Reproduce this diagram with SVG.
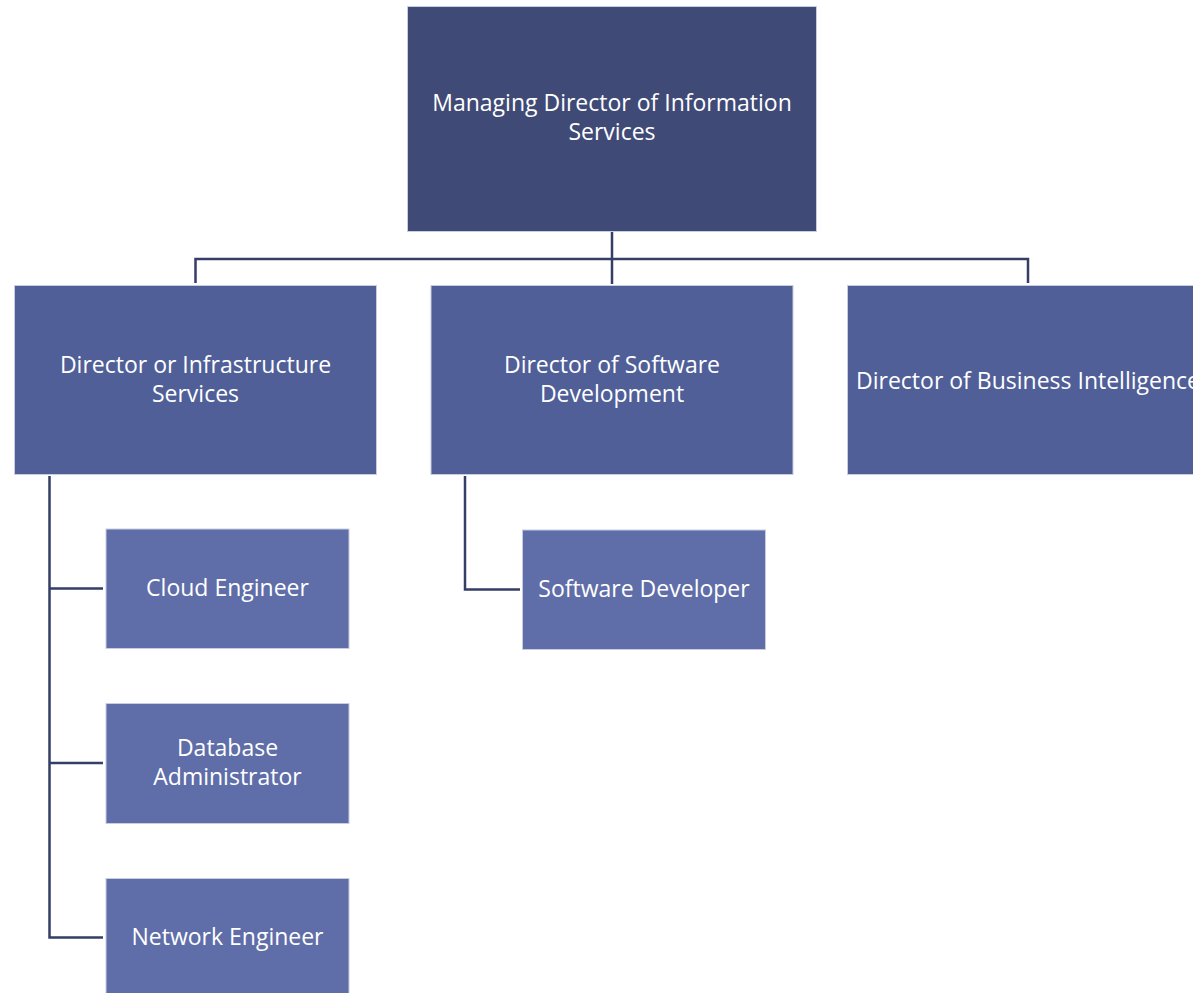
<svg xmlns="http://www.w3.org/2000/svg" width="1193" height="993" viewBox="0 0 1193 993">
<style>
.b{stroke:#c8cde0;stroke-width:1}
.l0{fill:#404a76}
.l1{fill:#505f98}
.l2{fill:#5f6ea8}
text{font-family:"Open Sans","Noto Sans","Liberation Sans",sans-serif;font-size:23px;fill:#ffffff;text-anchor:middle}
.c{fill:none;stroke:#353e66;stroke-width:2.5}
</style>
<rect width="1193" height="993" fill="#ffffff"/>
<g id="connectors">
<path class="c" d="M612 232 V284 M195.5 283 V259 H1028 V283"/>
<path class="c" d="M49.5 476 V937.5 H103 M49.5 588.5 H103 M49.5 763 H103"/>
<path class="c" d="M465 476 V589.5 H520"/>
</g>
<g id="managing-director">
<rect class="l0 b" x="407.5" y="6.5" width="409" height="225"/>
<text x="612" y="111">Managing Director of Information</text>
<text x="612" y="140">Services</text>
</g>
<g id="director-infrastructure">
<rect class="l1 b" x="14.5" y="285.5" width="362" height="189"/>
<text x="195.5" y="373">Director or Infrastructure</text>
<text x="195.5" y="402">Services</text>
</g>
<g id="director-software">
<rect class="l1 b" x="431" y="285.5" width="362" height="189"/>
<text x="612" y="373">Director of Software</text>
<text x="612" y="402">Development</text>
</g>
<g id="director-bi">
<rect class="l1 b" x="847.5" y="285.5" width="362" height="189"/>
<text x="1028" y="389">Director of Business Intelligence</text>
</g>
<g id="cloud-engineer">
<rect class="l2 b" x="106" y="529" width="243" height="119.5"/>
<text x="227.5" y="595.5">Cloud Engineer</text>
</g>
<g id="database-administrator">
<rect class="l2 b" x="106" y="703.5" width="243" height="120"/>
<text x="227.5" y="756">Database</text>
<text x="227.5" y="785">Administrator</text>
</g>
<g id="network-engineer">
<rect class="l2 b" x="106" y="878.5" width="243" height="120"/>
<text x="227.5" y="945">Network Engineer</text>
</g>
<g id="software-developer">
<rect class="l2 b" x="522.5" y="530" width="243" height="119.5"/>
<text x="644" y="596.5">Software Developer</text>
</g>
</svg>
